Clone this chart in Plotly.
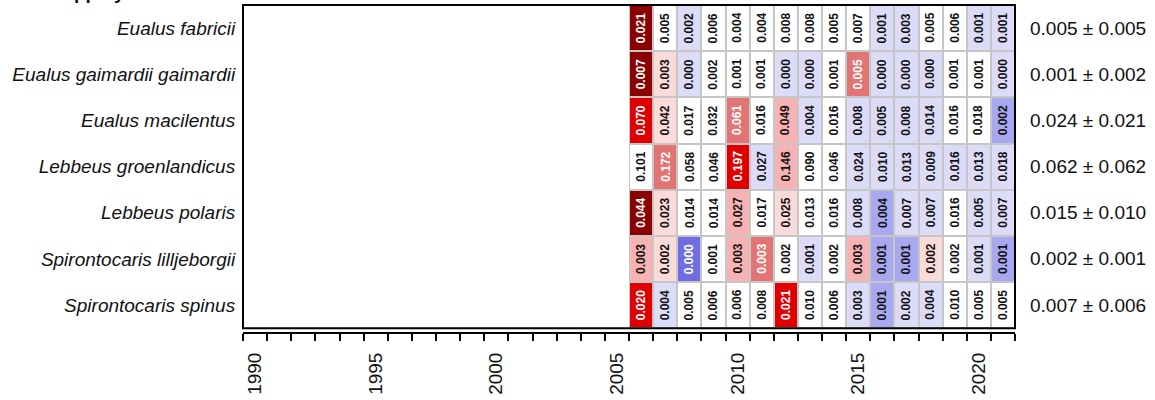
import numpy as np
import plotly.graph_objects as go

# Species (top to bottom) and survey years
species = [
    "Eualus fabricii",
    "Eualus gaimardii gaimardii",
    "Eualus macilentus",
    "Lebbeus groenlandicus",
    "Lebbeus polaris",
    "Spirontocaris lilljeborgii",
    "Spirontocaris spinus",
]
years = list(range(2006, 2022))

# Yearly values per species
eualus_fabricii = [0.021, 0.005, 0.002, 0.006, 0.004, 0.004, 0.008, 0.008,
                   0.005, 0.007, 0.001, 0.003, 0.005, 0.006, 0.001, 0.001]
eualus_gaimardii = [0.007, 0.003, 0.000, 0.002, 0.001, 0.001, 0.000, 0.000,
                    0.001, 0.005, 0.000, 0.000, 0.000, 0.001, 0.001, 0.000]
eualus_macilentus = [0.070, 0.042, 0.017, 0.032, 0.061, 0.016, 0.049, 0.004,
                     0.016, 0.008, 0.005, 0.008, 0.014, 0.016, 0.018, 0.002]
lebbeus_groenlandicus = [0.101, 0.172, 0.058, 0.046, 0.197, 0.027, 0.146, 0.090,
                         0.046, 0.024, 0.010, 0.013, 0.009, 0.016, 0.013, 0.018]
lebbeus_polaris = [0.044, 0.023, 0.014, 0.014, 0.027, 0.017, 0.025, 0.013,
                   0.016, 0.008, 0.004, 0.007, 0.007, 0.016, 0.005, 0.007]
spirontocaris_lilljeborgii = [0.003, 0.002, 0.000, 0.001, 0.003, 0.003, 0.002, 0.001,
                              0.002, 0.003, 0.001, 0.001, 0.002, 0.002, 0.001, 0.001]
spirontocaris_spinus = [0.020, 0.004, 0.005, 0.006, 0.006, 0.008, 0.021, 0.010,
                        0.006, 0.003, 0.001, 0.002, 0.004, 0.010, 0.005, 0.005]

# Standardised anomalies (in SD units) used for the cell colours
anom_fabricii = [3.3, -0.1, -0.7, 0.1, -0.3, -0.3, 0.45, 0.45,
                 -0.1, 0.3, -0.9, -0.6, -0.1, 0.1, -0.9, -0.9]
anom_gaimardii = [2.8, 0.8, -0.7, 0.3, -0.2, -0.2, -0.7, -0.7,
                  -0.2, 1.8, -0.7, -0.7, -0.7, -0.2, -0.2, -0.7]
anom_macilentus = [2.2, 0.85, -0.35, 0.4, 1.75, -0.4, 1.2, -0.95,
                   -0.4, -0.75, -0.9, -0.75, -0.55, -0.4, -0.3, -1.05]
anom_groenlandicus = [0.45, 1.8, -0.05, -0.25, 2.2, -0.55, 1.35, 0.4,
                      -0.25, -0.6, -0.85, -0.8, -0.85, -0.75, -0.8, -0.7]
anom_polaris = [2.75, 0.75, -0.15, -0.15, 1.1, 0.15, 0.9, -0.25,
                0.05, -0.7, -1.1, -0.8, -0.8, 0.05, -0.95, -0.8]
anom_lilljeborgii = [1.3, 0.7, -1.9, -0.4, 1.3, 1.6, 0.3, -0.7,
                     0.3, 1.25, -1.05, -1.05, 0.6, 0.3, -0.8, -1.05]
anom_spinus = [2.2, -0.55, -0.4, -0.2, -0.2, 0.15, 2.4, 0.45,
               -0.2, -0.75, -1.1, -0.9, -0.55, 0.45, -0.4, -0.4]

# Axis tick labels
tick_years = [1990, 1995, 2000, 2005, 2010, 2015, 2020]
tick_labels = ["1990", "1995", "2000", "2005", "2010", "2015", "2020"]
first_year, last_year = 1990, 2021

values = [eualus_fabricii, eualus_gaimardii, eualus_macilentus,
          lebbeus_groenlandicus, lebbeus_polaris,
          spirontocaris_lilljeborgii, spirontocaris_spinus]
anomaly = [anom_fabricii, anom_gaimardii, anom_macilentus, anom_groenlandicus,
           anom_polaris, anom_lilljeborgii, anom_spinus]

FONT = "Liberation Sans, Arial, sans-serif"

# Stepped blue-white-red scale, 0.5 SD per step from -2 to +3
B3, B2, B1 = "#6e6ee2", "#a8a8f1", "#dcdcf9"
W = "#ffffff"
P1, P2, P3, P4, P5 = "#fbdada", "#f7b3b3", "#e27474", "#e00000", "#8b0000"
steps = [B3, B2, B1, W, W, P1, P2, P3, P4, P5]
colorscale = []
for k, c in enumerate(steps):
    colorscale.append([k / len(steps), c])
    colorscale.append([(k + 1) / len(steps), c])

fig = go.Figure()

# Grey backdrop that shows through the gaps between cells
fig.add_trace(go.Heatmap(
    x=years, y=species, z=[[1] * len(years) for _ in species],
    colorscale=[[0, "#c6c6c6"], [1, "#c6c6c6"]], zmin=0, zmax=1,
    showscale=False, hoverinfo="skip",
))

fig.add_trace(go.Heatmap(
    x=years, y=species, z=anomaly,
    colorscale=colorscale, zmin=-2.0, zmax=3.0,
    xgap=2, ygap=2, showscale=False,
    customdata=values,
    hovertemplate="%{y}<br>%{x}: %{customdata:.3f}<extra></extra>",
))

annotations = []
for i, sp in enumerate(species):
    for j, yr in enumerate(years):
        a = anomaly[i][j]
        annotations.append(dict(
            x=yr, y=sp, xref="x", yref="y",
            text=f"<b>{values[i][j]:.3f}</b>", textangle=-90, showarrow=False,
            font=dict(family=FONT, size=12,
                      color="white" if abs(a) >= 1.5 else "#111111"),
        ))
    # mean ± sd on the right
    arr = np.array(values[i])
    annotations.append(dict(
        x=1, y=sp, xref="paper", yref="y", xanchor="left", xshift=13,
        text=f"{arr.mean():.3f} \u00b1 {arr.std(ddof=1):.3f}", showarrow=False,
        font=dict(family=FONT, size=19, color="#111111"),
    ))

# Group heading
annotations.append(dict(
    x=0, y=1, xref="paper", yref="paper", xanchor="left", yanchor="bottom",
    xshift=-190, yshift=0, text="<b>Hippolytidae</b>", showarrow=False,
    font=dict(family=FONT, size=19, color="#111111"),
))

# Box around the grid
shapes = [dict(type="rect", xref="x domain", yref="y domain",
               x0=0, x1=1, y0=0, y1=1, line=dict(color="black", width=2))]

boundaries = [y - 0.5 for y in range(first_year, last_year + 2)]

fig.update_layout(
    width=1155, height=400,
    margin=dict(l=243, r=140, t=5, b=52),
    paper_bgcolor="white", plot_bgcolor="white",
    annotations=annotations, shapes=shapes,
    showlegend=False,
    xaxis=dict(
        range=[first_year - 0.5, last_year + 0.5],
        anchor="free", position=0,
        showline=True, linecolor="black", linewidth=2,
        showgrid=False, zeroline=False,
        tickmode="array", tickvals=tick_years, ticktext=tick_labels,
        tickangle=-90, ticks="outside", ticklen=11, tickcolor="rgba(0,0,0,0)",
        tickfont=dict(family=FONT, size=19, color="#111111"),
        minor=dict(tickmode="array", tickvals=boundaries, ticks="outside",
                   ticklen=7, tickwidth=2, tickcolor="black", showgrid=False),
    ),
    yaxis=dict(
        domain=[0.0146, 1],
        range=[len(species) - 0.5, -0.5],
        showline=False, showgrid=False, zeroline=False,
        ticks="outside", ticklen=3, tickcolor="rgba(0,0,0,0)",
        tickfont=dict(family=FONT, size=19, color="#111111", style="italic"),
    ),
)

fig.write_html("out.html")
